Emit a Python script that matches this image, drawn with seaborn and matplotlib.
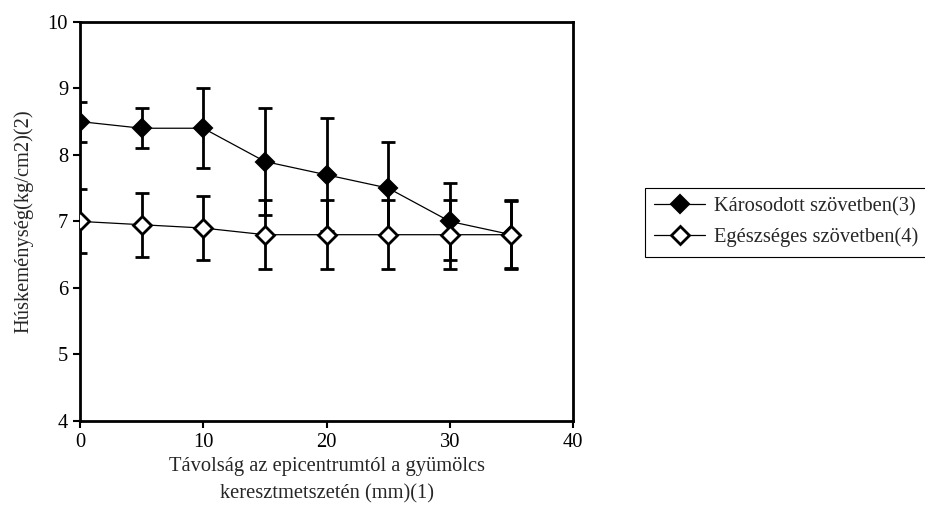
import numpy as np
import pandas as pd
import seaborn as sns
import matplotlib.pyplot as plt

# distance from epicentre (mm)
distance = [0, 5, 10, 15, 20, 25, 30, 35]

# flesh firmness, damaged tissue
damaged = [8.5, 8.4, 8.4, 7.9, 7.7, 7.5, 7.0, 6.8]
damaged_err = [0.3, 0.3, 0.6, 0.8, 0.85, 0.7, 0.58, 0.5]

# flesh firmness, healthy tissue
healthy = [7.0, 6.95, 6.9, 6.8, 6.8, 6.8, 6.8, 6.8]
healthy_err = [0.48, 0.48, 0.48, 0.52, 0.52, 0.52, 0.52, 0.52]

label_damaged = 'Károsodott szövetben(3)'
label_healthy = 'Egészséges szövetben(4)'

sns.set_style('white')
plt.rcParams['font.family'] = ['Liberation Serif', 'DejaVu Serif']
fs = 14.8

df = pd.DataFrame({'distance': distance, 'damaged': damaged, 'healthy': healthy})

fig = plt.figure(figsize=(9.25, 5.26), dpi=100)
ax = fig.add_axes([0.0865, 0.1996, 0.533, 0.759])

ax.errorbar(distance, damaged, yerr=damaged_err, fmt='none', ecolor='black',
            elinewidth=2, capsize=4.7, capthick=2, zorder=2)
sns.lineplot(data=df, x='distance', y='damaged', ax=ax, color='black', lw=0.9,
             marker='D', markersize=9.5, markerfacecolor='black',
             markeredgecolor='black', markeredgewidth=1.5,
             label=label_damaged, zorder=3)

ax.errorbar(distance, healthy, yerr=healthy_err, fmt='none', ecolor='black',
            elinewidth=2, capsize=4.7, capthick=2, zorder=4)
sns.lineplot(data=df, x='distance', y='healthy', ax=ax, color='black', lw=0.9,
             marker='D', markersize=9.5, markerfacecolor='white',
             markeredgecolor='black', markeredgewidth=2,
             label=label_healthy, zorder=5)

ax.set_xlim(0, 40)
ax.set_ylim(4, 10)
ax.set_xticks(range(0, 41, 10))
ax.set_yticks(range(4, 11, 1))
for s in ax.spines.values():
    s.set_color('black')
    s.set_linewidth(2)
ax.tick_params(axis='both', direction='out', length=5, width=1.5,
               colors='black', labelsize=fs, pad=3.5)
ax.tick_params(top=False, right=False, left=True, bottom=True)

ax.set_xlabel('Távolság az epicentrumtól a gyümölcs\nkeresztmetszetén (mm)(1)',
              fontsize=fs, labelpad=4, linespacing=1.55)
ax.set_ylabel('Húskeménység(kg/cm2)(2)', fontsize=fs, labelpad=10)

ax.get_legend().remove()
h, l = ax.get_legend_handles_labels()
leg = fig.legend(h, l, loc='upper left', bbox_to_anchor=(0.697, 0.643),
                 bbox_transform=fig.transFigure, frameon=True, fancybox=False,
                 edgecolor='black', framealpha=1, fontsize=fs,
                 handlelength=2.5, handletextpad=0.4, borderpad=0.45,
                 labelspacing=0.55, borderaxespad=0)
leg.get_frame().set_linewidth(0.8)

fig.savefig('out.png', dpi=100)
